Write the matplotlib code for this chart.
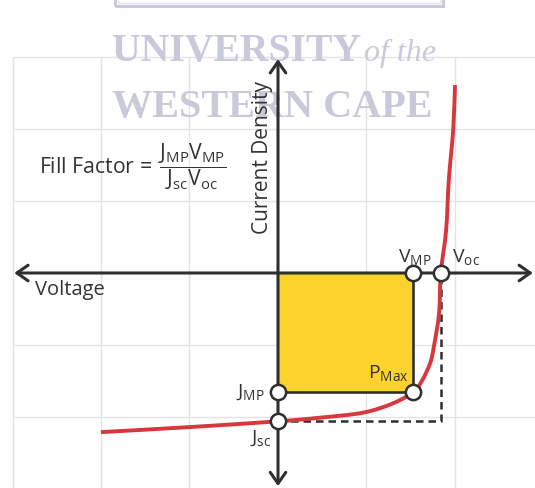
import numpy as np
import matplotlib
matplotlib.use("Agg")
import matplotlib.pyplot as plt
from matplotlib.path import Path
from matplotlib.patches import PathPatch, Rectangle

# J-V characteristic of the cell (voltage, current density), in grid units
voltage = [-2.00, -1.00, 0.00, 0.47, 0.96, 1.30, 1.53, 1.63, 1.72, 1.76,
           1.82, 1.84, 1.90, 1.93, 1.98, 2.00]
current = [-2.21, -2.14, -2.06, -2.01, -1.94, -1.81, -1.65, -1.49, -1.25, -1.03,
           -0.56, 0.00, 0.60, 1.29, 2.00, 2.61]

# characteristic points
v_mp, j_mp = 1.53, -1.65
v_oc = 1.84
j_sc = -2.06

grid_x = [-3, -2, -1, 1, 2, 3]
grid_y = [3, 2, 1, -1, -2, -3]

plt.rcParams["font.family"] = ["Open Sans", "DejaVu Sans"]
plt.rcParams["mathtext.fontset"] = "custom"
plt.rcParams["mathtext.rm"] = "Open Sans"
plt.rcParams["mathtext.it"] = "Open Sans:italic"
plt.rcParams["mathtext.bf"] = "Open Sans:bold"

DARK = "#2f2f2f"
TEXT = "#333333"
RED = "#d8373d"
YELLOW = "#fcd22c"
GRID = "#e4e4e4"
MARK = "#c9cad9"

fig = plt.figure(figsize=(5.35, 4.88), dpi=100)
fig.patch.set_facecolor("white")
ax = fig.add_axes([0, 0, 1, 1])
ax.set_xlim(-278 / 88.5, (535 - 278) / 88.5)
ax.set_ylim(-(488 - 273) / 72.0, 273 / 72.0)
ax.axis("off")

# background grid
ax.vlines(grid_x, -3.3, 3, color=GRID, lw=1.0, zorder=0)
ax.hlines(grid_y, -3, 3.3, color=GRID, lw=1.0, zorder=0)

# watermark
wm = dict(transform=fig.transFigure, color=MARK, family="Liberation Serif",
          zorder=1, va="baseline", ha="left")
ax.text(0.2093, 0.875, "UNIVERSITY", fontsize=28.5, weight="bold", **wm)
ax.text(0.681, 0.875, "of the", fontsize=23, style="italic", **wm)
ax.text(0.2093, 0.760, "WESTERN CAPE", fontsize=29, weight="bold", **wm)
ax.add_patch(Rectangle((115 / 535, 1 - 6 / 488), 328 / 535, 0.05, transform=fig.transFigure,
                       fc="none", ec=MARK, lw=2.2, zorder=1, clip_on=False))
ax.add_patch(Rectangle((118 / 535, 1 - 3 / 488), 322 / 535, 0.05, transform=fig.transFigure,
                       fc="none", ec="#e2e3ec", lw=1.0, zorder=1, clip_on=False))

# maximum power rectangle
ax.add_patch(Rectangle((0, j_mp), v_mp, -j_mp, fc=YELLOW, ec="none", zorder=2))
ax.plot([0, v_mp, v_mp], [j_mp, j_mp, 0], color=DARK, lw=1.9, zorder=3)

# Jsc * Voc rectangle
ax.plot([0, v_oc, v_oc], [j_sc, j_sc, 0], color=DARK, lw=1.8, dashes=(3, 2), zorder=3)

# axes with arrow heads
arrow = dict(arrowstyle="<->,head_length=0.4,head_width=0.28", lw=2.2, color=DARK,
             shrinkA=0, shrinkB=0, mutation_scale=20)
ax.annotate("", xy=(2.88, 0), xytext=(-2.98, 0), arrowprops=arrow, zorder=4)
ax.annotate("", xy=(0, 2.97), xytext=(0, -2.96), arrowprops=arrow, zorder=4)

# smooth J-V curve through the points (Catmull-Rom -> cubic Bezier)
pts = np.column_stack([voltage, current])
n = len(pts)
verts = [pts[0]]
codes = [Path.MOVETO]
for i in range(n - 1):
    p0 = pts[i - 1] if i > 0 else pts[i]
    p3 = pts[i + 2] if i + 2 < n else pts[i + 1]
    c1 = pts[i] + (pts[i + 1] - p0) / 6.0
    c2 = pts[i + 1] - (p3 - pts[i]) / 6.0
    verts += [c1, c2, pts[i + 1]]
    codes += [Path.CURVE4] * 3
ax.add_patch(PathPatch(Path(verts, codes), fc="none", ec=RED, lw=2.8,
                       capstyle="butt", zorder=5))

# marked points
ax.plot([0, 0, v_mp, v_oc, v_mp], [j_mp, j_sc, 0, 0, j_mp], "o", ms=11,
        mfc="white", mec=DARK, mew=1.8, zorder=6)

lab = dict(color=TEXT, fontsize=14, zorder=7, va="baseline")
ax.text(1.356, 0.15, r"$\mathrm{V_{MP}}$", ha="left", **lab)
ax.text(1.966, 0.15, r"$\mathrm{V_{oc}}$", ha="left", **lab)
ax.text(1.017, -1.46, r"$\mathrm{P_{Max}}$", ha="left", **lab)
ax.text(-0.147, -1.72, r"$\mathrm{J_{MP}}$", ha="right", **lab)
ax.text(-0.20, -2.36, r"$\mathrm{J_{sc}}$", ha="center", **lab)

ax.text(-2.75, -0.306, "Voltage", ha="left", color=TEXT, fontsize=14.5,
        va="baseline", zorder=7)
ax.text(-0.18, 1.61, "Current Density", rotation=90, ha="center", va="center",
        color=TEXT, fontsize=15, zorder=7)
ax.text(-2.70, 1.47,
        r"Fill Factor = $\,\dfrac{\mathrm{J_{MP}V_{MP}}}{\mathrm{J_{sc}V_{oc}}}$",
        ha="left", va="center", color=TEXT, fontsize=15.3, zorder=7)

fig.savefig("out.png", dpi=100, facecolor="white")
